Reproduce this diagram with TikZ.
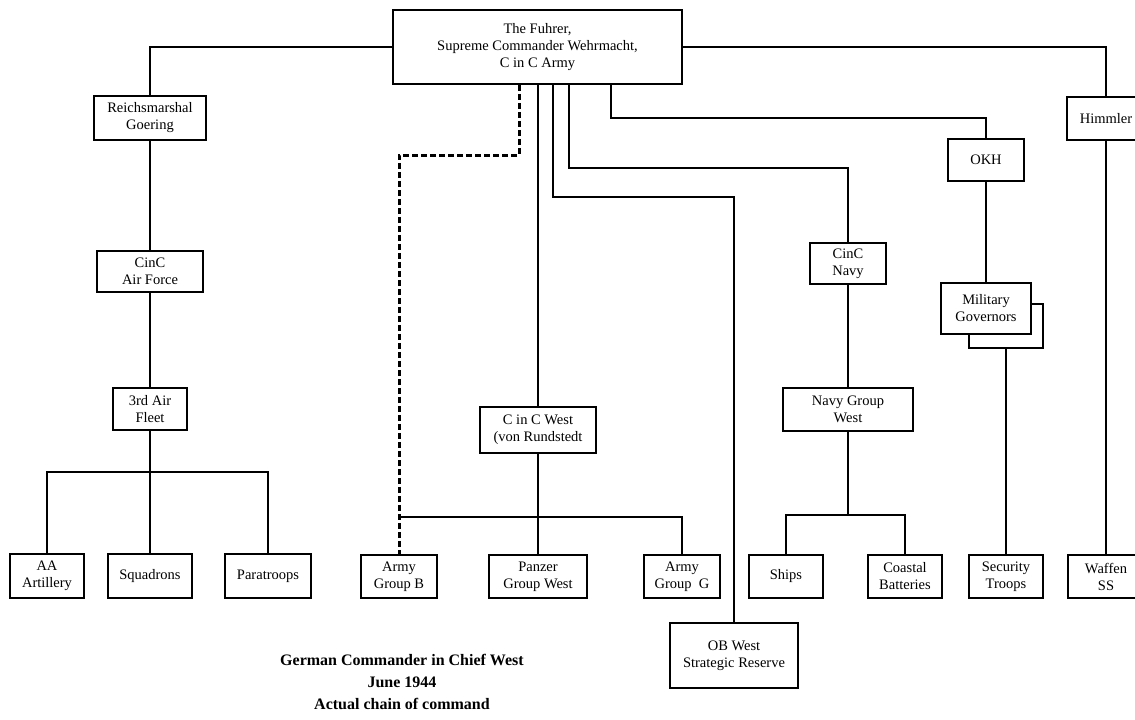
\documentclass[tikz,border=0pt]{standalone}
\usepackage{fontspec}
\setmainfont{Liberation Serif}
\begin{document}
\begin{tikzpicture}[x=1pt,y=-1pt,
  box/.style={draw, line width=1.8pt, fill=white, inner sep=0pt, align=center,
    font=\fontsize{14.5}{17}\selectfont},
  conn/.style={line width=2pt},
  dconn/.style={line width=3pt, dash pattern=on 6pt off 3pt},
  caption/.style={align=center, font=\bfseries\fontsize{16}{22}\selectfont}]
\useasboundingbox (0,0) rectangle (1135,720);
% nodes
\node[box, minimum width=289, minimum height=74] (fu) at (537.5,47) {The Fuhrer,\\Supreme Commander Wehrmacht,\\C in C Army};
\node[box, minimum width=112, minimum height=44] (rm) at (150,118) {Reichsmarshal\\Goering};
\node[box, minimum width=106, minimum height=41] (caf) at (150,271.5) {CinC\\Air Force};
\node[box, minimum width=74, minimum height=42] (taf) at (150,409) {3rd Air\\Fleet};
\node[box, minimum width=74, minimum height=44] (aa) at (47,576) {AA\\Artillery};
\node[box, minimum width=84, minimum height=44] (sq) at (150,576) {Squadrons};
\node[box, minimum width=86, minimum height=44] (pt) at (268,576) {Paratroops};
\node[box, minimum width=116, minimum height=46] (cw) at (538,430) {C in C West\\(von Rundstedt};
\node[box, minimum width=76, minimum height=43] (agb) at (399,576.5) {Army\\Group B};
\node[box, minimum width=98, minimum height=43] (pgw) at (538,576.5) {Panzer\\Group West};
\node[box, minimum width=76, minimum height=43] (agg) at (682,576.5) {Army\\Group\ \ G};
\node[box, minimum width=128, minimum height=65] (obw) at (734,655.5) {OB West\\Strategic Reserve};
\node[box, minimum width=76, minimum height=41] (cn) at (848,263.5) {CinC\\Navy};
\node[box, minimum width=130, minimum height=43] (ngw) at (848,409.5) {Navy Group\\West};
\node[box, minimum width=74, minimum height=43] (ships) at (786,576.5) {Ships};
\node[box, minimum width=74, minimum height=43] (cb) at (905,576.5) {Coastal\\Batteries};
\node[box, minimum width=76, minimum height=42] (okh) at (986,160) {OKH};
\node[box, minimum width=74, minimum height=44] (mgb) at (1006,326) {};
\node[box, minimum width=90, minimum height=51] (mg) at (986,308.5) {Military\\Governors};
\node[box, minimum width=74, minimum height=43] (st) at (1006,576.5) {Security\\Troops};
\node[box, minimum width=78, minimum height=43] (hi) at (1106,118.5) {Himmler};
\node[box, minimum width=76, minimum height=43] (ws) at (1106,576.5) {Waffen\\SS};
\node[caption] (cap) at (402,682) {German Commander in Chief West\\June 1944\\Actual chain of command};
% helper coordinates
\coordinate (d1) at (519,155);
\coordinate (c2) at (553,197);
\coordinate (c3) at (569,168);
\coordinate (c4) at (611,118);
\coordinate (hubA) at (150,472);
\coordinate (hubW) at (538,517);
\coordinate (hubN) at (848,515);
% connectors
\draw[conn] (fu.west) -| (rm.north);
\draw[conn] (fu.east) -| (hi.north);
\draw[conn] (rm.south) -- (caf.north);
\draw[conn] (caf.south) -- (taf.north);
\draw[conn] (taf.south) -- (sq.north);
\draw[conn] (aa.north) |- (hubA) -| (pt.north);
\draw[conn] (fu.south -| cw.north) -- (cw.north);
\draw[conn] (fu.south -| c2) -- (c2) -| (obw.north);
\draw[conn] (fu.south -| c3) -- (c3) -| (cn.north);
\draw[conn] (fu.south -| c4) -- (c4) -| (okh.north);
\draw[conn] (cw.south) -- (pgw.north);
\draw[conn] (hubW -| agb.north) -| (agg.north);
\draw[dconn] (fu.south -| d1) -- (d1) -| (agb.north);
\draw[conn] (cn.south) -- (ngw.north);
\draw[conn] (ngw.south) -- (hubN);
\draw[conn] (ships.north) |- (hubN) -| (cb.north);
\draw[conn] (okh.south) -- (mg.north);
\draw[conn] (mgb.south) -- (st.north);
\draw[conn] (hi.south) -- (ws.north);
\end{tikzpicture}
\end{document}
